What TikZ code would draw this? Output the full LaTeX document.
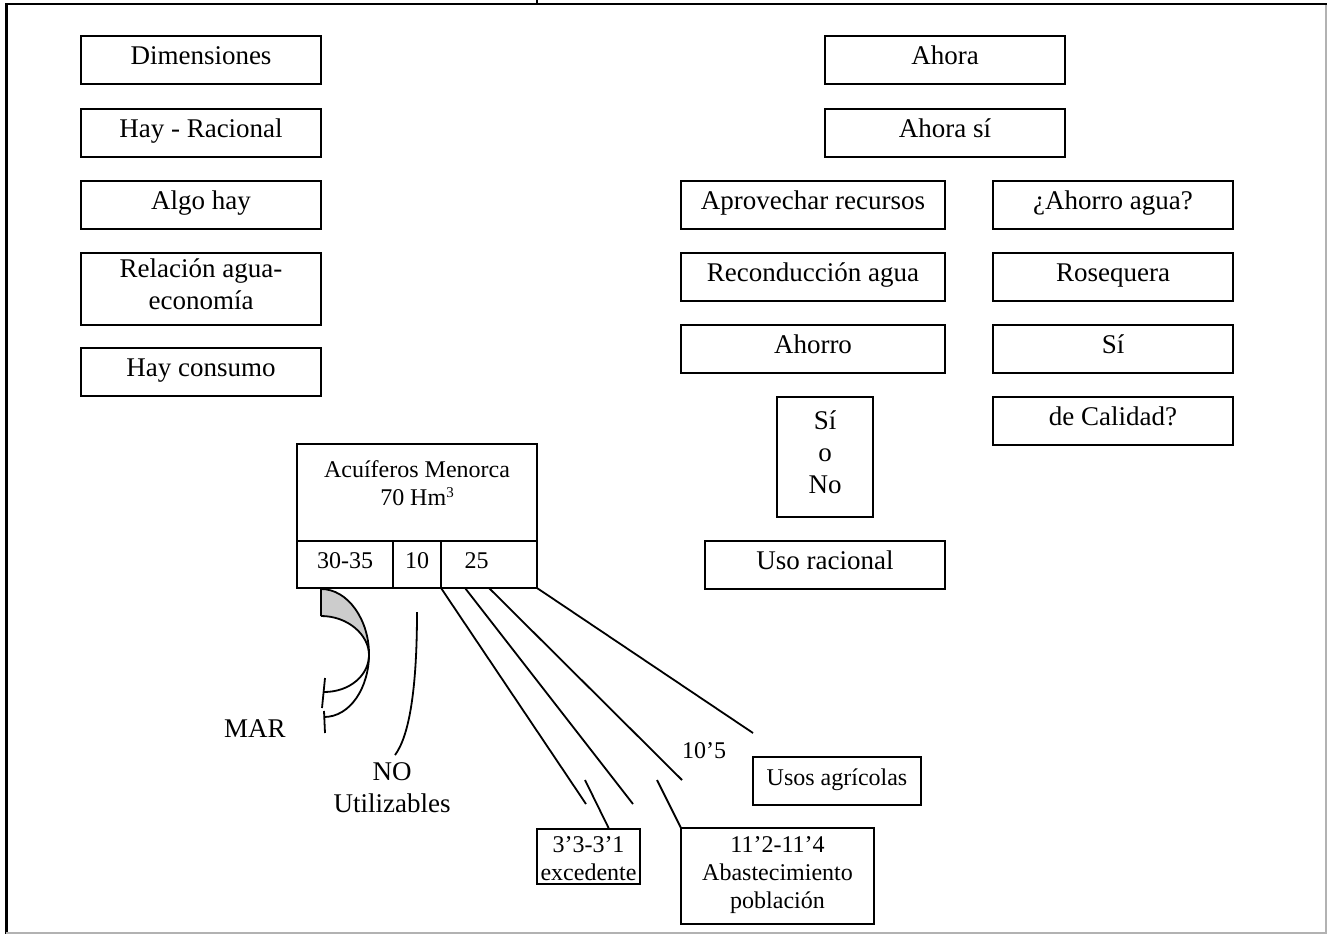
\documentclass[tikz,border=0pt]{standalone}
\usepackage{fontspec}
\setmainfont{Liberation Serif}
\usetikzlibrary{calc}
\newcommand\bstrut{\rule[-12pt]{0pt}{32pt}}
\newcommand\sstrut{\rule[-10pt]{0pt}{28pt}}
\newcommand\supthree{\raisebox{8pt}{\fontsize{15pt}{15pt}\selectfont 3}}
\begin{document}
\begin{tikzpicture}[x=1pt,y=-1pt,
  bigf/.style={font=\fontsize{27pt}{32pt}\selectfont},
  smallf/.style={font=\fontsize{24pt}{28pt}\selectfont},
  box/.style={draw, rectangle, line width=1.8pt, inner sep=0pt, outer sep=0pt, align=center},
  txt/.style={inner sep=0pt, outer sep=0pt, align=center},
  conn/.style={line width=1.8pt},
  frame/.style={line width=2pt}]
\useasboundingbox (0,0) rectangle (1327,934);

% frame
\draw[frame] (5,4.5) -- (1327,4.5);
\draw[frame] (537,0) -- (537,4.5);
\draw[line width=3pt] (6.5,4) -- (6.5,934);
\draw[line width=2pt, gray!60] (6,932.5) -- (1327,932.5);
\draw[line width=2pt, gray!60] (1326,5) -- (1326,934);

% left column
\node[box, bigf, minimum width=240pt, minimum height=48pt] (dim) at (201,60) {\bstrut Dimensiones};
\node[box, bigf, minimum width=240pt, minimum height=48pt] (hay) at (201,133) {\bstrut Hay - Racional};
\node[box, bigf, minimum width=240pt, minimum height=48pt] (algo) at (201,205) {\bstrut Algo hay};
\node[box, bigf, minimum width=240pt, minimum height=72pt] (rel) at (201,289) {\bstrut Relación agua-\\\bstrut economía};
\node[box, bigf, minimum width=240pt, minimum height=48pt] (cons) at (201,372) {\bstrut Hay consumo};

% right part
\node[box, bigf, minimum width=240pt, minimum height=48pt] (ahora) at (945,60) {\bstrut Ahora};
\node[box, bigf, minimum width=240pt, minimum height=48pt] (ahorasi) at (945,133) {\bstrut Ahora sí};
\node[box, bigf, minimum width=264pt, minimum height=48pt] (aprov) at (813,205) {\bstrut Aprovechar recursos};
\node[box, bigf, minimum width=264pt, minimum height=48pt] (recon) at (813,277) {\bstrut Reconducción agua};
\node[box, bigf, minimum width=264pt, minimum height=48pt] (ahorro) at (813,349) {\bstrut Ahorro};
\node[box, bigf, minimum width=240pt, minimum height=48pt] (ahagua) at (1113,205) {\bstrut ¿Ahorro agua?};
\node[box, bigf, minimum width=240pt, minimum height=48pt] (roseq) at (1113,277) {\bstrut Rosequera};
\node[box, bigf, minimum width=240pt, minimum height=48pt] (si) at (1113,349) {\bstrut Sí};
\node[box, bigf, minimum width=240pt, minimum height=48pt] (cal) at (1113,421) {\bstrut de Calidad?};
\node[box, bigf, minimum width=96pt, minimum height=120pt] (sino) at (825,457) {\bstrut Sí\\\bstrut o\\\bstrut No};
\node[box, bigf, minimum width=240pt, minimum height=48pt] (uso) at (825,565) {\raisebox{4pt}{\bstrut Uso racional}};

% aquifer box
\node[box, minimum width=240pt, minimum height=97pt] (acu) at (417,492.5) {};
\node[txt, smallf] (acuT) at (417,487) {\sstrut Acuíferos Menorca\\\sstrut 70 Hm\supthree};
\node[box, smallf, minimum width=96pt, minimum height=47pt] (c30) at (345,564.5) {\sstrut 30-35};
\node[box, smallf, minimum width=48pt, minimum height=47pt] (c10) at (417,564.5) {\sstrut 10};
\node[box, smallf, minimum width=96pt, minimum height=47pt] (c25) at (489,564.5) {\sstrut 25\hspace*{25pt}};

% destination boxes
\node[box, smallf, minimum width=168pt, minimum height=48pt] (usos) at (837,781) {\sstrut Usos agrícolas};
\node[box, minimum width=103pt, minimum height=55pt] (exc) at (588.5,856.5) {};
\node[txt, smallf] (excT) at (588.5,862) {\sstrut 3’3-3’1\\\sstrut excedente};
\node[box, smallf, minimum width=193pt, minimum height=96pt] (abast) at (777.5,876) {\sstrut 11’2-11’4\\\sstrut Abastecimiento\\\sstrut población};

% free labels
\node[txt, bigf] (mar) at (255,733) {\bstrut MAR};
\node[txt, bigf] (noutil) at (392,792) {\bstrut NO\\\bstrut Utilizables};
\node[txt, smallf] (diez) at (704,754) {\sstrut 10’5};

% connectors from the 25 cell
\coordinate (e1) at (586,804);
\coordinate (e2) at (633,804);
\coordinate (e3) at (682,780);
\coordinate (e4) at (753,733);
\coordinate (sA) at (585,780);
\coordinate (sB) at (657,780);
\draw[conn] (c25.south west) -- (e1);
\draw[conn] ($(c25.south west)!0.25!(c25.south east)$) -- (e2);
\draw[conn] ($(c25.south west)!0.5!(c25.south east)$) -- (e3);
\draw[conn] (c25.south east) -- (e4);
\draw[conn] (sA) -- ($(exc.north west)!0.7!(exc.north east)$);
\draw[conn] (sB) -- (abast.north west);

% NO utilizables curve
\coordinate (nu1) at (417,612);
\coordinate (nu2) at (395,755);
\draw[conn] (nu1) .. controls (417,685) and (410,735) .. (nu2);

% MAR curved arrow
\fill[gray!40] (321,589) .. controls (348,589) and (369,620) .. (369,654)
  .. controls (369,635) and (348,616) .. (321,616) -- cycle;
\draw[conn] (321,589) -- (321,616);
\draw[conn] (321,589) .. controls (348,589) and (369,620) .. (369,654)
  .. controls (369,688) and (350,717) .. (324,717);
\draw[conn] (321,616) .. controls (348,616) and (369,635) .. (369,655)
  .. controls (369,675) and (350,692) .. (324,692);
\draw[conn] (325,678) -- (322,708);
\draw[conn] (324,711) -- (325,733);
\end{tikzpicture}
\end{document}
